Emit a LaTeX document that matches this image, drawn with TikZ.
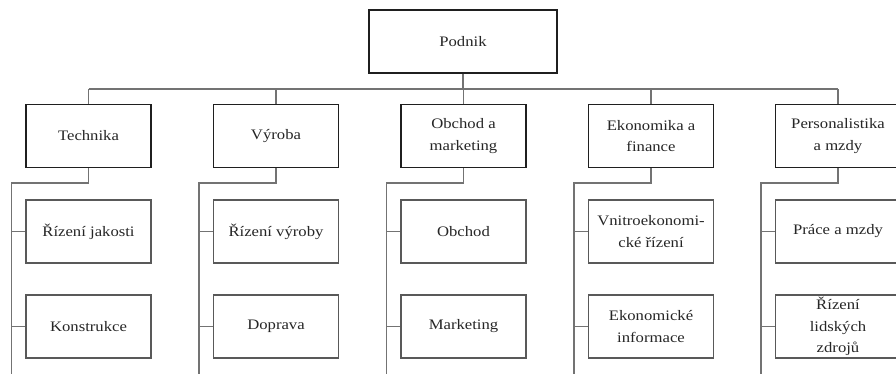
\documentclass[tikz,border=0pt]{standalone}
\usepackage{fontspec}
\setmainfont{Liberation Serif}[FakeStretch=1.15]
\usetikzlibrary{calc}
\begin{document}
\begin{tikzpicture}[x=1pt,y=-1pt,
  box/.style={draw=black!88,line width=1.7pt,minimum width=125pt,minimum height=63pt,inner sep=0pt,
    align=center,font=\fontsize{14.5pt}{21.5pt}\selectfont,text=black!85},
  topbox/.style={box,minimum width=188pt},
  subbox/.style={box,draw=black!65,line width=1.2pt},
  conn/.style={draw=black!55,line width=1.2pt}]
\useasboundingbox (0,0) rectangle (896,373);
\clip (0,0) rectangle (896,373);
\fill[white] (0,0) rectangle (896,373);
% top
\node[topbox] (p) at (463,41.5) {Podnik};
% level 2
\node[box] (a) at (88.5,136) {Technika};
\node[box] (b) at (276,136) {Výroba};
\node[box] (c) at (463.5,136) {Obchod a\\marketing};
\node[box] (d) at (651,136) {Ekonomika a\\finance};
\node[box] (e) at (838,136) {Personalistika\\a mzdy};
% level 3
\node[subbox] (a1) at (88.5,231.5) {Řízení jakosti};
\node[subbox] (a2) at (88.5,326.5) {Konstrukce};
\node[subbox] (b1) at (276,231.5) {Řízení výroby};
\node[subbox] (b2) at (276,326.5) {Doprava};
\node[subbox] (c1) at (463.5,231.5) {Obchod};
\node[subbox] (c2) at (463.5,326.5) {Marketing};
\node[subbox] (d1) at (651,231.5) {Vnitroekonomi-\\cké řízení};
\node[subbox] (d2) at (651,326.5) {Ekonomické\\informace};
\node[subbox] (e1) at (838,231.5) {Práce a mzdy};
\node[subbox] (e2) at (838,326.5) {Řízení\\lidských\\zdrojů};
% bus
\coordinate (busy) at (0,89);
\coordinate (elby) at (0,183);
\coordinate (boty) at (0,380);
\draw[conn] (p.south) -- (p.south |- busy);
\draw[conn] (a.north |- busy) -- (e.north |- busy);
\foreach \X in {a,b,c,d,e}{
  \draw[conn] (\X.north) -- (\X.north |- busy);
  \coordinate (\X v) at ($(\X1.west)+(-14,0)$);
  \draw[conn] (\X.south) |- (\X v |- elby) -- (\X v |- boty);
  \draw[conn] (\X v) -- (\X1.west);
  \draw[conn] (\X v |- \X2.west) -- (\X2.west);
}
\end{tikzpicture}
\end{document}
